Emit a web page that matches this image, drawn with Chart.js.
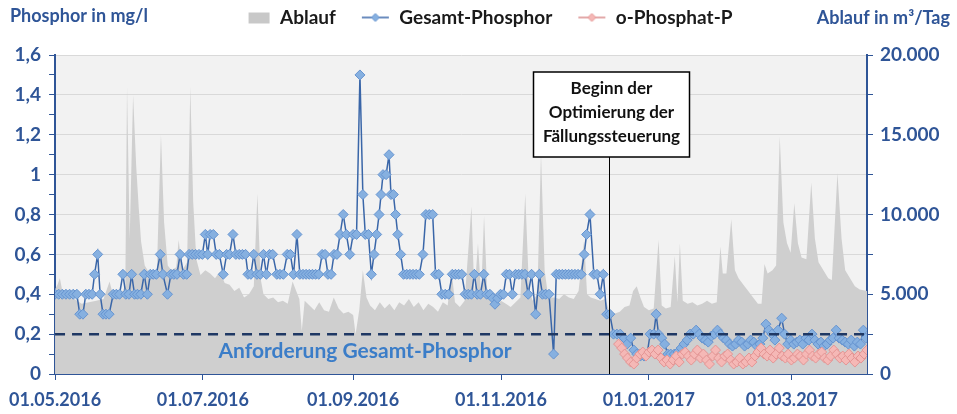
<!DOCTYPE html>
<html>
<head>
<meta charset="utf-8">
<script src="https://cdn.jsdelivr.net/npm/chart.js@4.4.0/dist/chart.umd.min.js"></script>
<style>
  html, body { margin: 0; padding: 0; background: #fff; }
</style>
</head>
<body>
<canvas id="chart" width="957" height="414"></canvas>
<script>
// x-Werte = Tage seit 01.05.2016
const xTickDays = [0, 61, 123, 184, 245, 304];
const xTickLabels = ['01.05.2016', '01.07.2016', '01.09.2016', '01.11.2016', '01.01.2017', '01.03.2017'];
const xMaxDay = 335;

const legendNames = ['Ablauf', 'Gesamt-Phosphor', 'o-Phosphat-P'];

// Ablauf in m³/Tag
const flowDays = [0, 1, 2, 3, 5, 8, 11, 14, 17, 20, 22.5, 24, 27, 29, 29.7, 30.8, 32.2, 33.5, 34.5, 35.5,
  37, 39, 42, 43.7, 45, 46.5, 48, 50, 51, 52.5, 54.5, 55.8, 57, 58.3, 60, 62, 64, 66, 68, 70,
  72, 74, 76, 78, 80, 82, 83.5, 84.8, 86, 88, 90, 92, 94, 96, 98, 99.5, 100.8, 101.8, 103, 105,
  107, 109, 111, 113, 115, 117, 119, 121, 123, 124, 125.5, 127, 128.5, 130, 132, 134, 136, 138, 140, 142,
  144, 146, 148, 150, 152, 154, 156, 158, 160, 162, 163.6, 165, 167, 169, 171.8, 173, 174.5, 175.8, 177, 178.3,
  180, 182, 184, 186, 188, 190, 192, 194, 195.5, 197, 199, 200.5, 202, 203.5, 206, 208, 210, 212, 214, 216,
  218.3, 219.5, 221, 223, 225, 227, 229, 231, 233, 235, 237, 238.5, 240, 241.5, 243, 245, 247, 249, 250.3, 252,
  254, 255.7, 256.8, 257.8, 259, 261, 263, 265, 267, 269, 271, 273, 274.5, 275.5, 277, 279, 280.5, 282, 284, 286,
  288, 290, 291.5, 292.7, 294, 296, 297.5, 299, 300.5, 302, 303.5, 305, 306.5, 308, 310, 312, 313.5, 315, 317, 319,
  320.5, 322.8, 324.5, 326, 328, 330, 332, 335];
const flowValues = [5300, 5600, 6000, 5200, 4900, 4700, 4400, 4500, 4600, 4700, 5800, 4900, 5000, 5500, 18000, 8500, 17500, 13000, 10500, 8300,
  6800, 6300, 6400, 15000, 9500, 6800, 6500, 6700, 8400, 6500, 7000, 18000, 10800, 7200, 6200, 6500, 6300, 6000, 6400, 5700,
  5600, 5200, 5400, 4800, 5000, 5500, 11300, 6000, 5000, 4700, 4800, 4500, 4600, 4400, 5800, 5200, 4700, 2700, 4600, 4300,
  4000, 4500, 4000, 3900, 4800, 4100, 3800, 3900, 3700, 2500, 4000, 6500, 4800, 4300, 4000, 4500, 4100, 4400, 4000, 4500,
  4300, 4700, 4200, 4500, 4000, 4400, 4200, 3900, 4500, 4300, 6500, 4500, 4200, 4600, 10500, 5000, 8200, 5000, 9900, 5200,
  4500, 4300, 4600, 4400, 4200, 4500, 4800, 11300, 5500, 4600, 5000, 13800, 6500, 4800, 4800, 4700, 5000, 4800, 4700, 5200,
  8400, 5000, 4800, 4700, 4600, 4700, 3800, 3800, 3900, 4200, 4300, 5200, 5500, 4800, 4200, 4000, 4100, 8400, 4300, 4100,
  4200, 7400, 4500, 8200, 4600, 4400, 4500, 4300, 4400, 4600, 4400, 4500, 8000, 6300, 6300, 9700, 6500, 6000, 5600, 5200,
  4800, 4400, 4400, 6900, 6300, 6500, 6800, 14900, 9500, 8200, 7600, 10700, 8200, 7300, 7200, 12000, 8500, 7000, 6500, 6000,
  5900, 12600, 8500, 6500, 6000, 5500, 5300, 5200];

// Gesamt-Phosphor in mg/l
const gpDays = [0, 1.5, 3, 4.5, 6, 7.5, 9, 10.2, 11.5, 12.7, 14, 15.3, 16.3, 17.6, 18.6, 19.8, 21, 22.3, 24, 25.3,
  26.6, 28, 29.2, 30.5, 31.6, 32.8, 34, 35.4, 36.8, 38.1, 39.3, 40.5, 41.8, 43.4, 44.5, 46.4, 47.8, 49, 50.3, 51.6,
  53, 54.3, 55.3, 56.6, 58, 59.4, 60.8, 62, 63, 64, 65.3, 66.5, 67.8, 69.4, 70.8, 72, 73.4, 74.6, 76, 77.3,
  78.6, 79.6, 80.8, 82, 83.3, 84.7, 86, 87.2, 88.5, 89.8, 91.5, 92.8, 94.2, 95.8, 97.1, 98.4, 99.8, 101, 102.3, 103.6,
  104.9, 106.2, 107.5, 108.8, 110.2, 111.4, 112.6, 113.9, 115.1, 116.3, 117.6, 118.9, 120.2, 121.6, 123, 124.4, 125.8, 127, 128, 129.3,
  130.5, 131.6, 132.7, 133.7, 134.5, 135.3, 136.6, 137.8, 138.6, 139.6, 140.5, 141.4, 142.6, 143.8, 145.1, 146.4, 147.7, 149, 150.3, 151.8,
  153, 154.4, 155.8, 157, 158.3, 159.6, 161, 162.4, 163.9, 165.2, 166.5, 167.8, 169.2, 170.5, 171.8, 173, 174.2, 175.5, 176.9, 178.1,
  179.4, 180.6, 181.5, 182.6, 183.8, 185, 186.2, 187.5, 188.7, 190, 191.3, 192.6, 193.9, 195.2, 196.6, 198.3, 199.8, 201.1, 202.4, 203.8,
  205.7, 206.8, 208, 209.3, 210.6, 211.9, 213.2, 214.5, 215.8, 217.1, 218.3, 219.3, 220.7, 222.3, 223.6, 224.9, 226.2, 227.6, 228.9, 230.4,
  231.8, 233.2, 234.8, 236, 237.5, 238.8, 240, 241.5, 243, 244.3, 245.5, 247, 248, 249, 250.3, 251.5, 252.8, 254, 255.5, 257,
  258.3, 259.5, 260.8, 262, 263.3, 264.5, 265.8, 267, 268.3, 269.5, 270.8, 272, 273.3, 274.5, 275.8, 277, 278.3, 279.5, 280.8, 282,
  283.3, 284.5, 285.8, 287, 288.3, 289.5, 290.8, 292, 293.3, 294.5, 295.8, 297, 298.3, 299.8, 301, 302.3, 303.5, 304.8, 306, 307.3,
  308.5, 309.8, 311, 312.3, 313.5, 314.8, 316, 317.3, 318.5, 319.8, 321, 322.3, 323.5, 324.8, 326, 327.3, 328.5, 329.8, 331, 332.3,
  333.5, 334.5];
const gpValues = [0.4, 0.4, 0.4, 0.4, 0.4, 0.4, 0.4, 0.3, 0.3, 0.4, 0.4, 0.4, 0.5, 0.6, 0.4, 0.3, 0.3, 0.3, 0.4, 0.4,
  0.4, 0.5, 0.4, 0.4, 0.5, 0.4, 0.4, 0.4, 0.5, 0.4, 0.5, 0.5, 0.5, 0.6, 0.5, 0.4, 0.5, 0.5, 0.5, 0.6,
  0.5, 0.5, 0.6, 0.6, 0.6, 0.6, 0.6, 0.7, 0.6, 0.7, 0.7, 0.6, 0.6, 0.5, 0.6, 0.6, 0.7, 0.6, 0.6, 0.6,
  0.6, 0.5, 0.5, 0.6, 0.5, 0.5, 0.6, 0.5, 0.6, 0.6, 0.5, 0.5, 0.5, 0.6, 0.6, 0.5, 0.7, 0.5, 0.5, 0.5,
  0.5, 0.5, 0.5, 0.5, 0.6, 0.6, 0.5, 0.5, 0.6, 0.6, 0.7, 0.8, 0.7, 0.6, 0.7, 0.7, 1.5, 0.9, 0.7, 0.7,
  0.5, 0.6, 0.7, 0.8, 0.9, 1.0, 1.0, 1.1, 0.9, 0.9, 0.8, 0.7, 0.6, 0.5, 0.5, 0.5, 0.5, 0.5, 0.5, 0.6,
  0.8, 0.8, 0.8, 0.5, 0.5, 0.4, 0.4, 0.4, 0.5, 0.5, 0.5, 0.5, 0.4, 0.4, 0.4, 0.5, 0.4, 0.4, 0.5, 0.4,
  0.4, 0.38, 0.35, 0.38, 0.4, 0.4, 0.5, 0.5, 0.4, 0.5, 0.5, 0.5, 0.5, 0.4, 0.5, 0.3, 0.5, 0.4, 0.4, 0.4,
  0.1, 0.5, 0.5, 0.5, 0.5, 0.5, 0.5, 0.5, 0.5, 0.5, 0.6, 0.7, 0.8, 0.5, 0.5, 0.4, 0.5, 0.3, 0.3, 0.2,
  0.2, 0.2, 0.18, 0.15, 0.18, 0.12, 0.1, 0.09, 0.09, 0.1, 0.2, 0.2, 0.3, 0.2, 0.18, 0.15, 0.1, 0.1, 0.1, 0.11,
  0.13, 0.15, 0.17, 0.2, 0.2, 0.22, 0.2, 0.18, 0.17, 0.16, 0.19, 0.2, 0.22, 0.2, 0.18, 0.17, 0.15, 0.14, 0.15, 0.17,
  0.16, 0.14, 0.15, 0.17, 0.16, 0.14, 0.15, 0.18, 0.25, 0.22, 0.2, 0.17, 0.22, 0.28, 0.2, 0.15, 0.17, 0.15, 0.16, 0.17,
  0.15, 0.18, 0.17, 0.2, 0.17, 0.15, 0.16, 0.14, 0.15, 0.17, 0.18, 0.22, 0.18, 0.17, 0.16, 0.15, 0.17, 0.14, 0.16, 0.15,
  0.22, 0.18];

// o-Phosphat-P in mg/l
const opDays = [232.5, 233.8, 235, 236.2, 237.5, 238.8, 240, 241.3, 242.5, 243.8, 245, 246.3, 247.5, 248.8, 250, 251.3, 252.5, 253.8, 255, 256.3,
  257.5, 258.8, 260, 261.3, 262.5, 263.8, 265, 266.3, 267.5, 268.8, 270, 271.3, 272.5, 273.8, 275, 276.3, 277.5, 278.8, 280, 281.3,
  282.5, 283.8, 285, 286.3, 287.5, 288.8, 290, 291.3, 292.5, 293.8, 295, 296.3, 297.5, 298.8, 300, 301.3, 302.5, 303.8, 305, 306.3,
  307.5, 308.8, 310, 311.3, 312.5, 313.8, 315, 316.3, 317.5, 318.8, 320, 321.3, 322.5, 323.8, 325, 326.3, 327.5, 328.8, 330, 331.3,
  332.5, 333.8, 335];
const opValues = [0.15, 0.13, 0.1, 0.08, 0.06, 0.05, 0.08, 0.1, 0.11, 0.09, 0.11, 0.12, 0.1, 0.12, 0.08, 0.06, 0.07, 0.05, 0.07, 0.09,
  0.06, 0.1, 0.11, 0.09, 0.07, 0.1, 0.12, 0.08, 0.1, 0.07, 0.05, 0.09, 0.12, 0.08, 0.06, 0.09, 0.1, 0.07, 0.05, 0.06,
  0.08, 0.05, 0.06, 0.08, 0.06, 0.09, 0.11, 0.13, 0.1, 0.09, 0.12, 0.08, 0.1, 0.13, 0.09, 0.08, 0.1, 0.07, 0.08, 0.1,
  0.09, 0.07, 0.1, 0.12, 0.09, 0.08, 0.1, 0.11, 0.08, 0.07, 0.09, 0.12, 0.1, 0.08, 0.09, 0.07, 0.1, 0.08, 0.06, 0.09,
  0.08, 0.1, 0.12];

const limitValue = 0.2;          // Anforderung Gesamt-Phosphor
const optimizationStartDay = 228.5;

const AXIS_BLUE = '#2f5597';
const FONT = 'Lato, "Open Sans", sans-serif';
const LEGEND_GAP = 18; // Platz zwischen Legende und Diagrammfläche

function toPoints(days, values) {
  return days.map((d, i) => ({ x: d, y: values[i] }));
}

function thousands(v) {
  return String(v).replace(/\B(?=(\d{3})+(?!\d))/g, '.');
}

// small legend icons: area box, line with diamond
function makeIcon(kind, lineColor, fill, stroke) {
  const c = document.createElement('canvas');
  c.width = 46; c.height = 14;
  const g = c.getContext('2d');
  if (kind === 'area') {
    g.fillStyle = '#c8c8c8';
    g.fillRect(24, 2, 21, 11);
  } else {
    g.strokeStyle = lineColor;
    g.lineWidth = 1.5;
    g.beginPath(); g.moveTo(18, 7); g.lineTo(45, 7); g.stroke();
    g.fillStyle = fill; g.strokeStyle = stroke; g.lineWidth = 1;
    g.beginPath(); g.moveTo(31.5, 3); g.lineTo(35.5, 7); g.lineTo(31.5, 11); g.lineTo(27.5, 7); g.closePath();
    g.fill(); g.stroke();
  }
  return c;
}
const legendIcons = [
  makeIcon('area'),
  makeIcon('line', '#3a66a8', '#86b0e0', '#6694d0'),
  makeIcon('line', '#d88c8c', '#f5b8b6', '#e49594')
];

const decor = {
  id: 'decor',
  beforeLayout(chart) {
    // zusätzlichen Abstand unter der Legende
    const lg = chart.legend;
    if (lg && !lg._extraGap) {
      const fit = lg.fit;
      lg.fit = function () { fit.call(this); this.height += LEGEND_GAP; };
      lg._extraGap = true;
    }
  },
  beforeDraw(chart) {
    const { ctx, chartArea: a } = chart;
    ctx.save();
    ctx.fillStyle = '#f2f2f2';
    ctx.fillRect(a.left, a.top, a.right - a.left, a.bottom - a.top);
    ctx.restore();
  },
  afterDatasetsDraw(chart) {
    const { ctx, chartArea: a, scales } = chart;
    const yLim = scales.y.getPixelForValue(limitValue);
    ctx.save();
    // Anforderung label
    ctx.font = 'bold 21px ' + FONT;
    ctx.fillStyle = '#3b7dc8';
    ctx.textAlign = 'center';
    ctx.textBaseline = 'middle';
    ctx.fillText('Anforderung Gesamt-Phosphor', a.left + 310, yLim + 17);

    // Beginn der Optimierung
    const lx = Math.round(scales.x.getPixelForValue(optimizationStartDay)) + 0.5;
    const boxW = 156, boxH = 85;
    const boxL = lx - 76, boxT = a.top + 17;
    ctx.strokeStyle = '#000';
    ctx.lineWidth = 1;
    ctx.beginPath(); ctx.moveTo(lx, a.bottom); ctx.lineTo(lx, boxT + boxH); ctx.stroke();
    ctx.fillStyle = '#fff';
    ctx.fillRect(boxL, boxT, boxW, boxH);
    ctx.lineWidth = 1.5;
    ctx.strokeRect(boxL, boxT, boxW, boxH);
    ctx.fillStyle = '#111';
    ctx.font = 'bold 17px ' + FONT;
    ['Beginn der', 'Optimierung der', 'Fällungssteuerung'].forEach((t, i) => {
      ctx.fillText(t, boxL + boxW / 2, boxT + 17 + i * 24);
    });
    ctx.restore();
  },
  afterDraw(chart) {
    const { ctx } = chart;
    ctx.save();
    ctx.font = 'bold 18px ' + FONT;
    ctx.fillStyle = AXIS_BLUE;
    ctx.textBaseline = 'middle';
    ctx.textAlign = 'left';
    ctx.fillText('Phosphor in mg/l', 10, 16);
    ctx.textAlign = 'right';
    ctx.fillText('Ablauf in m³/Tag', 950, 18);
    ctx.restore();
  }
};

Chart.defaults.font.family = FONT;
Chart.defaults.font.weight = 'bold';
Chart.defaults.font.size = 19;

new Chart(document.getElementById('chart'), {
  type: 'line',
  data: {
    datasets: [
      {
        label: 'Ablauf',
        data: toPoints(flowDays, flowValues),
        yAxisID: 'y1',
        fill: 'origin',
        backgroundColor: '#cfcfcf',
        borderWidth: 0,
        pointRadius: 0,
        tension: 0,
        order: 4
      },
      {
        label: 'Gesamt-Phosphor',
        data: toPoints(gpDays, gpValues),
        yAxisID: 'y',
        borderColor: '#3a66a8',
        borderWidth: 1.5,
        pointStyle: 'rectRot',
        pointRadius: 5,
        pointBackgroundColor: '#86b0e0',
        pointBorderColor: '#6694d0',
        pointBorderWidth: 1,
        tension: 0,
        order: 2
      },
      {
        label: 'o-Phosphat-P',
        data: toPoints(opDays, opValues),
        yAxisID: 'y',
        borderColor: '#d88c8c',
        borderWidth: 1,
        pointStyle: 'rectRot',
        pointRadius: 5,
        pointBackgroundColor: '#f5b8b6',
        pointBorderColor: '#e49594',
        pointBorderWidth: 1,
        tension: 0,
        order: 1
      },
      {
        label: 'Anforderung',
        data: [{ x: 0, y: limitValue }, { x: xMaxDay, y: limitValue }],
        yAxisID: 'y',
        borderColor: '#1f3864',
        borderWidth: 2.5,
        borderDash: [10, 7],
        pointRadius: 0,
        order: 0
      }
    ]
  },
  options: {
    responsive: false,
    animation: false,
    layout: { padding: { top: 0, left: 0, right: 0, bottom: 0 } },
    plugins: {
      tooltip: { enabled: false },
      legend: {
        position: 'top',
        labels: {
          color: '#1a1a1a',
          font: { size: 19, weight: 'bold' },
          usePointStyle: true,
          pointStyleWidth: 46,
          padding: 8,
          generateLabels: () => legendNames.map((name, i) => ({
            text: name,
            pointStyle: legendIcons[i],
            fillStyle: 'transparent',
            strokeStyle: 'transparent',
            lineWidth: 0,
            hidden: false,
            datasetIndex: i,
            fontColor: '#1a1a1a'
          }))
        }
      }
    },
    scales: {
      x: {
        type: 'linear',
        min: 0,
        max: xMaxDay,
        afterBuildTicks: s => { s.ticks = xTickDays.map(v => ({ value: v })); },
        afterFit: s => { s.height = 40; },
        ticks: {
          autoSkip: false,
          maxRotation: 0,
          padding: 9,
          color: AXIS_BLUE,
          font: { size: 18, weight: 'bold' },
          callback: (v, i) => xTickLabels[i]
        },
        grid: { drawOnChartArea: false, tickColor: AXIS_BLUE, tickLength: 6 },
        border: { color: AXIS_BLUE, width: 2 }
      },
      y: {
        position: 'left',
        min: 0,
        max: 1.6,
        afterFit: s => { s.width = 52; },
        ticks: {
          stepSize: 0.1,
          autoSkip: false,
          padding: 8,
          color: AXIS_BLUE,
          callback: v => (Math.round(v * 10) % 2 === 0 ? String(Math.round(v * 10) / 10).replace('.', ',') : '')
        },
        grid: {
          color: c => (c.tick && Math.round(c.tick.value * 10) % 2 === 0 ? '#d9d9d9' : 'rgba(0,0,0,0)'),
          tickColor: AXIS_BLUE,
          tickLength: 6,
          lineWidth: 1
        },
        border: { color: AXIS_BLUE, width: 2 }
      },
      y1: {
        position: 'right',
        min: 0,
        max: 20000,
        afterFit: s => { s.width = 90; },
        ticks: {
          stepSize: 2500,
          autoSkip: false,
          padding: 7,
          color: AXIS_BLUE,
          callback: v => (v % 5000 === 0 ? thousands(v) : '')
        },
        grid: { drawOnChartArea: false, tickColor: AXIS_BLUE, tickLength: 6 },
        border: { color: AXIS_BLUE, width: 2 }
      }
    }
  },
  plugins: [decor]
});
</script>
</body>
</html>
